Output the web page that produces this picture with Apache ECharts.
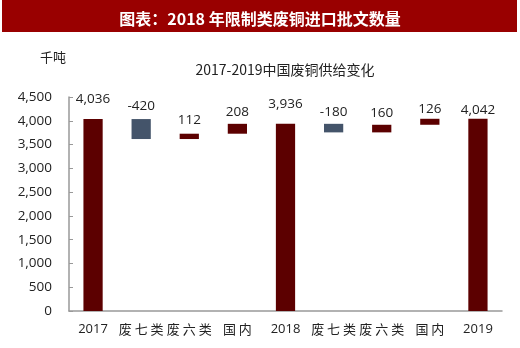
<!DOCTYPE html>
<html><head><meta charset="utf-8">
<script src="https://cdn.jsdelivr.net/npm/echarts@6/dist/echarts.min.js"></script>
<style>html,body{margin:0;padding:0;background:#fff}#c{width:520px;height:348px}</style>
</head><body><div id="c"></div>
<script>
const categories = ['2017','废七类','废六类','国内','2018','废七类','废六类','国内','2019'];
const values = [4036, -420, 112, 208, 3936, -180, 160, 126, 4042];
const isTotal = [true, false, false, false, true, false, false, false, true];
const yTicks = [0, 500, 1000, 1500, 2000, 2500, 3000, 3500, 4000, 4500];

const fmt = v => v.toLocaleString('en-US');
const base = [], height = [];
let run = 0;
values.forEach((v, i) => {
  if (isTotal[i]) { base.push(0); height.push(v); run = v; }
  else if (v < 0) { run += v; base.push(run); height.push(-v); }
  else { base.push(run); height.push(v); run += v; }
});
const labelDist = [13, 6, 7, 5, 13, 5, 5, 3, 2];
const RED = '#5c0000', BLUE = '#44546a';

const chart = echarts.init(document.getElementById('c'));
chart.setOption({
  animation: false,
  graphic: [{ type: 'rect', left: 2, top: 0, shape: { width: 515, height: 32 }, style: { fill: '#990000' }, z: 0 }],
  title: [
    { text: '图表：2018 年限制类废铜进口批文数量', left: 'center', top: 6, textStyle: { color: '#fff', fontSize: 16, fontWeight: 'bold', fontFamily: 'Noto Sans CJK SC' }, z: 10 },
    { text: '2017-2019中国废铜供给变化', left: 280, textAlign: 'center', top: 58, textStyle: { color: '#222', fontSize: 14, fontWeight: 'normal', fontFamily: 'Noto Sans CJK SC' } },
    { text: '千吨', left: 35, top: 46, textStyle: { color: '#222', fontSize: 13, fontWeight: 'normal', fontFamily: 'Noto Sans CJK SC' } }
  ],
  grid: { left: 69, right: 18, top: 97, bottom: 37, containLabel: false },
  xAxis: {
    type: 'category', data: categories,
    axisLine: { lineStyle: { color: '#999', width: 1.5 } },
    axisTick: { inside: true, length: 5, lineStyle: { color: '#999' } },
    axisLabel: { interval: 0, color: '#222', fontSize: 13, margin: 12, fontFamily: 'Open Sans',
      formatter: v => /^\d+$/.test(v) ? v : '{c|' + v.split('').join(' ') + '}',
      rich: { c: { fontSize: 13, color: '#222', fontFamily: 'Noto Sans CJK SC' } } }
  },
  yAxis: {
    type: 'value', min: yTicks[0], max: yTicks[yTicks.length - 1], interval: 500,
    splitLine: { show: false },
    axisLine: { show: true, lineStyle: { color: '#999', width: 1.5 } },
    axisTick: { show: true, inside: true, length: 4, lineStyle: { color: '#999' } },
    axisLabel: { color: '#222', fontSize: 13.5, margin: 17, fontFamily: 'Open Sans', formatter: v => fmt(v) }
  },
  series: [
    { type: 'bar', stack: 'w', data: base, itemStyle: { color: 'transparent' }, barWidth: '40%', silent: true },
    { type: 'bar', stack: 'w', barWidth: '40%',
      data: height.map((h, i) => ({
        value: h,
        itemStyle: { color: values[i] < 0 ? BLUE : RED },
        label: { show: true, position: 'top', distance: labelDist[i], formatter: fmt(values[i]) }
      })),
      label: { color: '#222', fontSize: 13.5, fontFamily: 'Open Sans' }
    }
  ]
});
</script></body></html>
